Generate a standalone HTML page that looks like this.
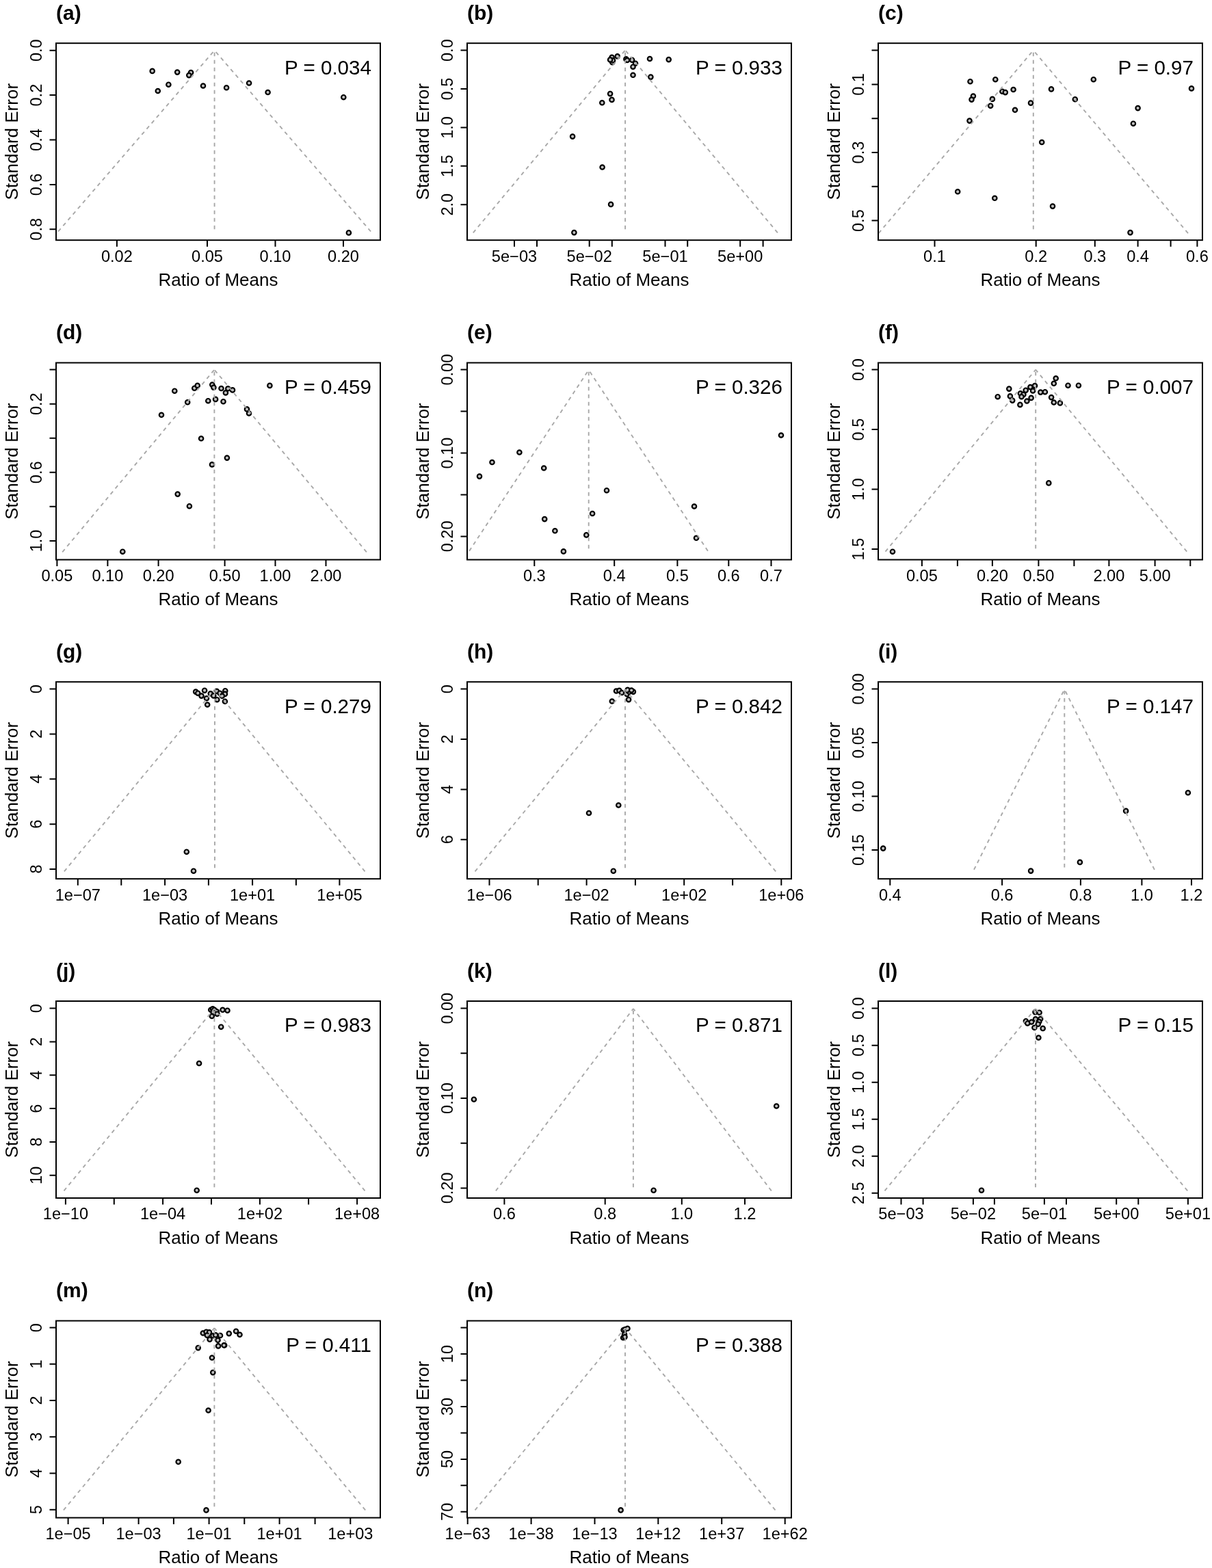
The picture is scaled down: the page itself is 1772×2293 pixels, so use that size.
<!DOCTYPE html>
<html><head><meta charset="utf-8"><title>Funnel plots</title>
<style>
html,body{margin:0;padding:0;background:#fff;}
body{width:1772px;height:2293px;overflow:hidden;}
svg{display:block;}
svg text{font-family:"Liberation Sans",Arial,sans-serif;fill:#000;}
.tl{font-size:23.6px;}
.lb{font-size:26.0px;}
.pv{font-size:29.6px;}
.tt{font-size:30.0px;font-weight:bold;}
.bx{fill:none;stroke:#000;stroke-width:2.0;}
.tk{fill:none;stroke:#000;stroke-width:2.0;}
.fl{fill:none;stroke:#a8a8a8;stroke-width:1.9;stroke-dasharray:5.5 5.5;}
circle{fill:#bebebe;stroke:#000;stroke-width:2.2;}
</style></head>
<body><svg width="1772" height="2293" viewBox="0 0 1772 2293">
<rect x="0" y="0" width="1772" height="2293" fill="#fff"/>
<g>
<circle cx="222.7" cy="103.9" r="3.2"/>
<circle cx="259.2" cy="105.6" r="3.2"/>
<circle cx="279.1" cy="106" r="3.2"/>
<circle cx="276.3" cy="110.1" r="3.2"/>
<circle cx="246.4" cy="123.7" r="3.2"/>
<circle cx="230.8" cy="133" r="3.2"/>
<circle cx="297" cy="125.5" r="3.2"/>
<circle cx="331.1" cy="128.3" r="3.2"/>
<circle cx="364.1" cy="121.5" r="3.2"/>
<circle cx="391.6" cy="135" r="3.2"/>
<circle cx="502.3" cy="142.2" r="3.2"/>
<circle cx="509.9" cy="340.4" r="3.2"/>
<path class="fl" d="M85.1 338.5L313.6 73.7M542.1 338.5L313.6 73.7"/>
<path class="fl" d="M313.6 335.3L313.6 73.7"/>
<rect class="bx" x="82" y="63.2" width="474" height="288"/>
<path class="tk" d="M72.5 73.7H82M72.5 139.1H82M72.5 204.5H82M72.5 269.9H82M72.5 335.3H82M170.9 351.2V360.7M303 351.2V360.7M402.5 351.2V360.7M502 351.2V360.7"/>
<text class="tl" text-anchor="middle" transform="translate(60.8 73.7) rotate(-90)">0.0</text>
<text class="tl" text-anchor="middle" transform="translate(60.8 139.1) rotate(-90)">0.2</text>
<text class="tl" text-anchor="middle" transform="translate(60.8 204.5) rotate(-90)">0.4</text>
<text class="tl" text-anchor="middle" transform="translate(60.8 269.9) rotate(-90)">0.6</text>
<text class="tl" text-anchor="middle" transform="translate(60.8 335.3) rotate(-90)">0.8</text>
<text class="tl" text-anchor="middle" x="170.9" y="382.6">0.02</text>
<text class="tl" text-anchor="middle" x="303" y="382.6">0.05</text>
<text class="tl" text-anchor="middle" x="402.5" y="382.6">0.10</text>
<text class="tl" text-anchor="middle" x="502" y="382.6">0.20</text>
<text class="lb" text-anchor="middle" x="319" y="417.8">Ratio of Means</text>
<text class="lb" text-anchor="middle" transform="translate(25.7 207.2) rotate(-90)">Standard Error</text>
<text class="pv" text-anchor="end" x="543" y="108.6">P = 0.034</text>
<text class="tt" x="82" y="28.7">(a)</text>
</g>
<g>
<circle cx="895.3" cy="91.3" r="3.2"/>
<circle cx="894.6" cy="83.9" r="3.2"/>
<circle cx="896" cy="88.3" r="3.2"/>
<circle cx="902.7" cy="82.4" r="3.2"/>
<circle cx="892.1" cy="87.4" r="3.2"/>
<circle cx="915.4" cy="86.4" r="3.2"/>
<circle cx="917" cy="88" r="3.2"/>
<circle cx="924.1" cy="87.8" r="3.2"/>
<circle cx="929" cy="92.7" r="3.2"/>
<circle cx="925.5" cy="97.7" r="3.2"/>
<circle cx="950" cy="86" r="3.2"/>
<circle cx="977.7" cy="87.1" r="3.2"/>
<circle cx="925.5" cy="109.8" r="3.2"/>
<circle cx="951.4" cy="112.6" r="3.2"/>
<circle cx="892.1" cy="137.1" r="3.2"/>
<circle cx="894.5" cy="145.9" r="3.2"/>
<circle cx="880.3" cy="150.3" r="3.2"/>
<circle cx="837.1" cy="199.6" r="3.2"/>
<circle cx="880.6" cy="244.5" r="3.2"/>
<circle cx="893.1" cy="298.9" r="3.2"/>
<circle cx="839.4" cy="340.1" r="3.2"/>
<path class="fl" d="M691.8 340.4L914.1 73.4M1136.9 340.4L914.1 73.4"/>
<path class="fl" d="M914.1 335.3L914.1 73.4"/>
<rect class="bx" x="683" y="63.2" width="474" height="288"/>
<path class="tk" d="M673.5 73.6H683M673.5 130H683M673.5 186.4H683M673.5 242.8H683M673.5 299.2H683M752 351.2V360.7M785 351.2V360.7M861.7 351.2V360.7M894.8 351.2V360.7M972.5 351.2V360.7M1005.2 351.2V360.7M1082.2 351.2V360.7M1115.6 351.2V360.7"/>
<text class="tl" text-anchor="middle" transform="translate(661.8 73.6) rotate(-90)">0.0</text>
<text class="tl" text-anchor="middle" transform="translate(661.8 130) rotate(-90)">0.5</text>
<text class="tl" text-anchor="middle" transform="translate(661.8 186.4) rotate(-90)">1.0</text>
<text class="tl" text-anchor="middle" transform="translate(661.8 242.8) rotate(-90)">1.5</text>
<text class="tl" text-anchor="middle" transform="translate(661.8 299.2) rotate(-90)">2.0</text>
<text class="tl" text-anchor="middle" x="752" y="382.6">5e−03</text>
<text class="tl" text-anchor="middle" x="861.7" y="382.6">5e−02</text>
<text class="tl" text-anchor="middle" x="972.5" y="382.6">5e−01</text>
<text class="tl" text-anchor="middle" x="1082.2" y="382.6">5e+00</text>
<text class="lb" text-anchor="middle" x="920" y="417.8">Ratio of Means</text>
<text class="lb" text-anchor="middle" transform="translate(626.7 207.2) rotate(-90)">Standard Error</text>
<text class="pv" text-anchor="end" x="1144" y="108.6">P = 0.933</text>
<text class="tt" x="683" y="28.7">(b)</text>
</g>
<g>
<circle cx="1418.5" cy="119.2" r="3.2"/>
<circle cx="1455.3" cy="116.2" r="3.2"/>
<circle cx="1598.8" cy="116.2" r="3.2"/>
<circle cx="1742" cy="129.4" r="3.2"/>
<circle cx="1481.6" cy="131" r="3.2"/>
<circle cx="1465.4" cy="133.7" r="3.2"/>
<circle cx="1469.8" cy="135.1" r="3.2"/>
<circle cx="1537" cy="130.4" r="3.2"/>
<circle cx="1422.9" cy="140.5" r="3.2"/>
<circle cx="1420.5" cy="145.6" r="3.2"/>
<circle cx="1450.9" cy="144.9" r="3.2"/>
<circle cx="1571.8" cy="145.2" r="3.2"/>
<circle cx="1448.2" cy="154.7" r="3.2"/>
<circle cx="1507" cy="150.6" r="3.2"/>
<circle cx="1484" cy="160.8" r="3.2"/>
<circle cx="1663.6" cy="158.1" r="3.2"/>
<circle cx="1417.5" cy="176.6" r="3.2"/>
<circle cx="1656.9" cy="180.7" r="3.2"/>
<circle cx="1523.2" cy="208" r="3.2"/>
<circle cx="1400.2" cy="280.3" r="3.2"/>
<circle cx="1454.3" cy="289.8" r="3.2"/>
<circle cx="1539" cy="301.6" r="3.2"/>
<circle cx="1652.5" cy="340.1" r="3.2"/>
<path class="fl" d="M1284.6 341.1L1510.8 73.6M1737 341.1L1510.8 73.6"/>
<path class="fl" d="M1510.8 335.3L1510.8 73.6"/>
<rect class="bx" x="1284" y="63.2" width="474" height="288"/>
<path class="tk" d="M1274.5 73.6H1284M1274.5 123.4H1284M1274.5 173.2H1284M1274.5 223H1284M1274.5 272.8H1284M1274.5 322.6H1284M1366.5 351.2V360.7M1514.7 351.2V360.7M1600.8 351.2V360.7M1663.6 351.2V360.7M1711.6 351.2V360.7M1750.4 351.2V360.7"/>
<text class="tl" text-anchor="middle" transform="translate(1262.8 123.4) rotate(-90)">0.1</text>
<text class="tl" text-anchor="middle" transform="translate(1262.8 223) rotate(-90)">0.3</text>
<text class="tl" text-anchor="middle" transform="translate(1262.8 322.6) rotate(-90)">0.5</text>
<text class="tl" text-anchor="middle" x="1366.5" y="382.6">0.1</text>
<text class="tl" text-anchor="middle" x="1514.7" y="382.6">0.2</text>
<text class="tl" text-anchor="middle" x="1600.8" y="382.6">0.3</text>
<text class="tl" text-anchor="middle" x="1663.6" y="382.6">0.4</text>
<text class="tl" text-anchor="middle" x="1750.4" y="382.6">0.6</text>
<text class="lb" text-anchor="middle" x="1521" y="417.8">Ratio of Means</text>
<text class="lb" text-anchor="middle" transform="translate(1227.7 207.2) rotate(-90)">Standard Error</text>
<text class="pv" text-anchor="end" x="1745" y="108.6">P = 0.97</text>
<text class="tt" x="1284" y="28.7">(c)</text>
</g>
<g>
<circle cx="255.3" cy="571.7" r="3.2"/>
<circle cx="284.3" cy="567.7" r="3.2"/>
<circle cx="288.7" cy="563.9" r="3.2"/>
<circle cx="310.3" cy="562.6" r="3.2"/>
<circle cx="312.4" cy="566.6" r="3.2"/>
<circle cx="323.5" cy="568" r="3.2"/>
<circle cx="333.3" cy="568.3" r="3.2"/>
<circle cx="340" cy="570.4" r="3.2"/>
<circle cx="329.9" cy="574.4" r="3.2"/>
<circle cx="394.4" cy="563.9" r="3.2"/>
<circle cx="274.2" cy="588.3" r="3.2"/>
<circle cx="304.3" cy="586.2" r="3.2"/>
<circle cx="315.1" cy="583.9" r="3.2"/>
<circle cx="326.5" cy="587.2" r="3.2"/>
<circle cx="361" cy="598.4" r="3.2"/>
<circle cx="364" cy="604.5" r="3.2"/>
<circle cx="236" cy="606.8" r="3.2"/>
<circle cx="294.1" cy="641.3" r="3.2"/>
<circle cx="331.9" cy="669.6" r="3.2"/>
<circle cx="310" cy="679.4" r="3.2"/>
<circle cx="259.7" cy="722.6" r="3.2"/>
<circle cx="276.9" cy="740.2" r="3.2"/>
<circle cx="179.3" cy="806.7" r="3.2"/>
<path class="fl" d="M91.2 807.4L313.4 540.6M535.9 807.4L313.4 540.6"/>
<path class="fl" d="M313.4 802.3L313.4 540.6"/>
<rect class="bx" x="82" y="530.5" width="474" height="288"/>
<path class="tk" d="M72.5 540.6H82M72.5 590.66H82M72.5 640.72H82M72.5 690.78H82M72.5 740.84H82M72.5 790.9H82M83.4 818.5V828M157.4 818.5V828M231.6 818.5V828M328.6 818.5V828M402.5 818.5V828M476.5 818.5V828"/>
<text class="tl" text-anchor="middle" transform="translate(60.8 590.66) rotate(-90)">0.2</text>
<text class="tl" text-anchor="middle" transform="translate(60.8 690.78) rotate(-90)">0.6</text>
<text class="tl" text-anchor="middle" transform="translate(60.8 790.9) rotate(-90)">1.0</text>
<text class="tl" text-anchor="middle" x="83.4" y="849.9">0.05</text>
<text class="tl" text-anchor="middle" x="157.4" y="849.9">0.10</text>
<text class="tl" text-anchor="middle" x="231.6" y="849.9">0.20</text>
<text class="tl" text-anchor="middle" x="328.6" y="849.9">0.50</text>
<text class="tl" text-anchor="middle" x="402.5" y="849.9">1.00</text>
<text class="tl" text-anchor="middle" x="476.5" y="849.9">2.00</text>
<text class="lb" text-anchor="middle" x="319" y="885.1">Ratio of Means</text>
<text class="lb" text-anchor="middle" transform="translate(25.7 674.5) rotate(-90)">Standard Error</text>
<text class="pv" text-anchor="end" x="543" y="575.9">P = 0.459</text>
<text class="tt" x="82" y="496">(d)</text>
</g>
<g>
<circle cx="1142" cy="636.5" r="3.2"/>
<circle cx="759.4" cy="661.5" r="3.2"/>
<circle cx="719.5" cy="676" r="3.2"/>
<circle cx="795.2" cy="684.5" r="3.2"/>
<circle cx="701" cy="696.6" r="3.2"/>
<circle cx="887" cy="717.2" r="3.2"/>
<circle cx="1015" cy="740.5" r="3.2"/>
<circle cx="866.1" cy="751" r="3.2"/>
<circle cx="796.2" cy="759.1" r="3.2"/>
<circle cx="811.4" cy="776.3" r="3.2"/>
<circle cx="857.3" cy="782.4" r="3.2"/>
<circle cx="1018" cy="786.8" r="3.2"/>
<circle cx="823.9" cy="806.4" r="3.2"/>
<path class="fl" d="M686.1 805.7L860.7 541M1034.9 805.7L860.7 541"/>
<path class="fl" d="M860.7 802.3L860.7 541"/>
<rect class="bx" x="683" y="530.5" width="474" height="288"/>
<path class="tk" d="M673.5 540.6H683M673.5 601.55H683M673.5 662.5H683M673.5 723.45H683M673.5 784.4H683M781.3 818.5V828M898.2 818.5V828M990.4 818.5V828M1065.3 818.5V828M1127.5 818.5V828"/>
<text class="tl" text-anchor="middle" transform="translate(661.8 540.6) rotate(-90)">0.00</text>
<text class="tl" text-anchor="middle" transform="translate(661.8 662.5) rotate(-90)">0.10</text>
<text class="tl" text-anchor="middle" transform="translate(661.8 784.4) rotate(-90)">0.20</text>
<text class="tl" text-anchor="middle" x="781.3" y="849.9">0.3</text>
<text class="tl" text-anchor="middle" x="898.2" y="849.9">0.4</text>
<text class="tl" text-anchor="middle" x="990.4" y="849.9">0.5</text>
<text class="tl" text-anchor="middle" x="1065.3" y="849.9">0.6</text>
<text class="tl" text-anchor="middle" x="1127.5" y="849.9">0.7</text>
<text class="lb" text-anchor="middle" x="920" y="885.1">Ratio of Means</text>
<text class="lb" text-anchor="middle" transform="translate(626.7 674.5) rotate(-90)">Standard Error</text>
<text class="pv" text-anchor="end" x="1144" y="575.9">P = 0.326</text>
<text class="tt" x="683" y="496">(e)</text>
</g>
<g>
<circle cx="1458.7" cy="580.2" r="3.2"/>
<circle cx="1475.3" cy="568.6" r="3.2"/>
<circle cx="1476.9" cy="579.4" r="3.2"/>
<circle cx="1480.2" cy="585.6" r="3.2"/>
<circle cx="1491.9" cy="575.3" r="3.2"/>
<circle cx="1496.4" cy="576.9" r="3.2"/>
<circle cx="1493.5" cy="580.2" r="3.2"/>
<circle cx="1499.7" cy="570.7" r="3.2"/>
<circle cx="1506.4" cy="566.1" r="3.2"/>
<circle cx="1513" cy="564.1" r="3.2"/>
<circle cx="1510.1" cy="571.5" r="3.2"/>
<circle cx="1507.6" cy="581.9" r="3.2"/>
<circle cx="1501.4" cy="586.5" r="3.2"/>
<circle cx="1491.4" cy="591.9" r="3.2"/>
<circle cx="1521.3" cy="573.6" r="3.2"/>
<circle cx="1527.9" cy="573.2" r="3.2"/>
<circle cx="1543.7" cy="553.3" r="3.2"/>
<circle cx="1540.8" cy="560.8" r="3.2"/>
<circle cx="1561.5" cy="563.7" r="3.2"/>
<circle cx="1576.9" cy="563.7" r="3.2"/>
<circle cx="1537.1" cy="581.1" r="3.2"/>
<circle cx="1540.8" cy="588.5" r="3.2"/>
<circle cx="1549.9" cy="589.4" r="3.2"/>
<circle cx="1533.3" cy="706.4" r="3.2"/>
<circle cx="1305" cy="806.7" r="3.2"/>
<path class="fl" d="M1294.5 806.7L1514.2 540.6M1735.2 806.7L1514.2 540.6"/>
<path class="fl" d="M1514.2 802.3L1514.2 540.6"/>
<rect class="bx" x="1284" y="530.5" width="474" height="288"/>
<path class="tk" d="M1274.5 540.6H1284M1274.5 628.07H1284M1274.5 715.54H1284M1274.5 803.01H1284M1347.9 818.5V828M1399.9 818.5V828M1450.9 818.5V828M1518.4 818.5V828M1570.4 818.5V828M1621.4 818.5V828M1688.6 818.5V828M1740.3 818.5V828"/>
<text class="tl" text-anchor="middle" transform="translate(1262.8 540.6) rotate(-90)">0.0</text>
<text class="tl" text-anchor="middle" transform="translate(1262.8 628.07) rotate(-90)">0.5</text>
<text class="tl" text-anchor="middle" transform="translate(1262.8 715.54) rotate(-90)">1.0</text>
<text class="tl" text-anchor="middle" transform="translate(1262.8 803.01) rotate(-90)">1.5</text>
<text class="tl" text-anchor="middle" x="1347.9" y="849.9">0.05</text>
<text class="tl" text-anchor="middle" x="1450.9" y="849.9">0.20</text>
<text class="tl" text-anchor="middle" x="1518.4" y="849.9">0.50</text>
<text class="tl" text-anchor="middle" x="1621.4" y="849.9">2.00</text>
<text class="tl" text-anchor="middle" x="1688.6" y="849.9">5.00</text>
<text class="lb" text-anchor="middle" x="1521" y="885.1">Ratio of Means</text>
<text class="lb" text-anchor="middle" transform="translate(1227.7 674.5) rotate(-90)">Standard Error</text>
<text class="pv" text-anchor="end" x="1745" y="575.9">P = 0.007</text>
<text class="tt" x="1284" y="496">(f)</text>
</g>
<g>
<circle cx="286.2" cy="1011.6" r="3.2"/>
<circle cx="289.3" cy="1013.7" r="3.2"/>
<circle cx="299.1" cy="1009.7" r="3.2"/>
<circle cx="294.5" cy="1017.6" r="3.2"/>
<circle cx="302" cy="1021.2" r="3.2"/>
<circle cx="307.8" cy="1014.3" r="3.2"/>
<circle cx="303.2" cy="1030.5" r="3.2"/>
<circle cx="316.9" cy="1010.8" r="3.2"/>
<circle cx="312.3" cy="1017.4" r="3.2"/>
<circle cx="317.3" cy="1023.2" r="3.2"/>
<circle cx="321.5" cy="1013.7" r="3.2"/>
<circle cx="329.3" cy="1010.2" r="3.2"/>
<circle cx="328.9" cy="1014.9" r="3.2"/>
<circle cx="328.9" cy="1025.7" r="3.2"/>
<circle cx="324.8" cy="1017.8" r="3.2"/>
<circle cx="272.8" cy="1245.7" r="3.2"/>
<circle cx="283" cy="1273.7" r="3.2"/>
<path class="fl" d="M93.9 1274.4L314 1008M533.5 1274.4L314 1008"/>
<path class="fl" d="M314 1269.3L314 1008"/>
<rect class="bx" x="82" y="997.2" width="474" height="288"/>
<path class="tk" d="M72.5 1007.6H82M72.5 1073.45H82M72.5 1139.3H82M72.5 1205.15H82M72.5 1271H82M113.8 1285.2V1294.7M177.3 1285.2V1294.7M241.1 1285.2V1294.7M304.9 1285.2V1294.7M369.1 1285.2V1294.7M432.9 1285.2V1294.7M496.4 1285.2V1294.7"/>
<text class="tl" text-anchor="middle" transform="translate(60.8 1007.6) rotate(-90)">0</text>
<text class="tl" text-anchor="middle" transform="translate(60.8 1073.45) rotate(-90)">2</text>
<text class="tl" text-anchor="middle" transform="translate(60.8 1139.3) rotate(-90)">4</text>
<text class="tl" text-anchor="middle" transform="translate(60.8 1205.15) rotate(-90)">6</text>
<text class="tl" text-anchor="middle" transform="translate(60.8 1271) rotate(-90)">8</text>
<text class="tl" text-anchor="middle" x="113.8" y="1316.6">1e−07</text>
<text class="tl" text-anchor="middle" x="241.1" y="1316.6">1e−03</text>
<text class="tl" text-anchor="middle" x="369.1" y="1316.6">1e+01</text>
<text class="tl" text-anchor="middle" x="496.4" y="1316.6">1e+05</text>
<text class="lb" text-anchor="middle" x="319" y="1351.8">Ratio of Means</text>
<text class="lb" text-anchor="middle" transform="translate(25.7 1141.2) rotate(-90)">Standard Error</text>
<text class="pv" text-anchor="end" x="543" y="1042.6">P = 0.279</text>
<text class="tt" x="82" y="962.7">(g)</text>
</g>
<g>
<circle cx="901" cy="1010.5" r="3.2"/>
<circle cx="905.4" cy="1009.8" r="3.2"/>
<circle cx="909" cy="1013" r="3.2"/>
<circle cx="916.7" cy="1015.1" r="3.2"/>
<circle cx="920" cy="1011.8" r="3.2"/>
<circle cx="917.6" cy="1008.9" r="3.2"/>
<circle cx="925.9" cy="1011.6" r="3.2"/>
<circle cx="923.2" cy="1009.5" r="3.2"/>
<circle cx="919.1" cy="1023.1" r="3.2"/>
<circle cx="894.8" cy="1025.5" r="3.2"/>
<circle cx="904.3" cy="1177.5" r="3.2"/>
<circle cx="861" cy="1189" r="3.2"/>
<circle cx="896.8" cy="1273.7" r="3.2"/>
<path class="fl" d="M694.5 1274.4L914 1008M1134.2 1274.4L914 1008"/>
<path class="fl" d="M914 1269.3L914 1008"/>
<rect class="bx" x="683" y="997.2" width="474" height="288"/>
<path class="tk" d="M673.5 1007.6H683M673.5 1081H683M673.5 1154.4H683M673.5 1227.8H683M715.5 1285.2V1294.7M786.7 1285.2V1294.7M857.6 1285.2V1294.7M928.9 1285.2V1294.7M1000.2 1285.2V1294.7M1071.1 1285.2V1294.7M1142.3 1285.2V1294.7"/>
<text class="tl" text-anchor="middle" transform="translate(661.8 1007.6) rotate(-90)">0</text>
<text class="tl" text-anchor="middle" transform="translate(661.8 1081) rotate(-90)">2</text>
<text class="tl" text-anchor="middle" transform="translate(661.8 1154.4) rotate(-90)">4</text>
<text class="tl" text-anchor="middle" transform="translate(661.8 1227.8) rotate(-90)">6</text>
<text class="tl" text-anchor="middle" x="715.5" y="1316.6">1e−06</text>
<text class="tl" text-anchor="middle" x="857.6" y="1316.6">1e−02</text>
<text class="tl" text-anchor="middle" x="1000.2" y="1316.6">1e+02</text>
<text class="tl" text-anchor="middle" x="1142.3" y="1316.6">1e+06</text>
<text class="lb" text-anchor="middle" x="920" y="1351.8">Ratio of Means</text>
<text class="lb" text-anchor="middle" transform="translate(626.7 1141.2) rotate(-90)">Standard Error</text>
<text class="pv" text-anchor="end" x="1144" y="1042.6">P = 0.842</text>
<text class="tt" x="683" y="962.7">(h)</text>
</g>
<g>
<circle cx="1736.9" cy="1159.3" r="3.2"/>
<circle cx="1646.1" cy="1185.9" r="3.2"/>
<circle cx="1291.2" cy="1240.6" r="3.2"/>
<circle cx="1578.9" cy="1260.9" r="3.2"/>
<circle cx="1507.1" cy="1273.6" r="3.2"/>
<path class="fl" d="M1424 1271.8L1556.3 1008M1687.9 1271.8L1556.3 1008"/>
<path class="fl" d="M1556.3 1268.5L1556.3 1008"/>
<rect class="bx" x="1284" y="997.2" width="474" height="288"/>
<path class="tk" d="M1274.5 1007.6H1284M1274.5 1086.07H1284M1274.5 1164.54H1284M1274.5 1243.01H1284M1301.3 1285.2V1294.7M1465.1 1285.2V1294.7M1579.9 1285.2V1294.7M1669.4 1285.2V1294.7M1742 1285.2V1294.7"/>
<text class="tl" text-anchor="middle" transform="translate(1262.8 1007.6) rotate(-90)">0.00</text>
<text class="tl" text-anchor="middle" transform="translate(1262.8 1086.07) rotate(-90)">0.05</text>
<text class="tl" text-anchor="middle" transform="translate(1262.8 1164.54) rotate(-90)">0.10</text>
<text class="tl" text-anchor="middle" transform="translate(1262.8 1243.01) rotate(-90)">0.15</text>
<text class="tl" text-anchor="middle" x="1301.3" y="1316.6">0.4</text>
<text class="tl" text-anchor="middle" x="1465.1" y="1316.6">0.6</text>
<text class="tl" text-anchor="middle" x="1579.9" y="1316.6">0.8</text>
<text class="tl" text-anchor="middle" x="1669.4" y="1316.6">1.0</text>
<text class="tl" text-anchor="middle" x="1742" y="1316.6">1.2</text>
<text class="lb" text-anchor="middle" x="1521" y="1351.8">Ratio of Means</text>
<text class="lb" text-anchor="middle" transform="translate(1227.7 1141.2) rotate(-90)">Standard Error</text>
<text class="pv" text-anchor="end" x="1745" y="1042.6">P = 0.147</text>
<text class="tt" x="1284" y="962.7">(i)</text>
</g>
<g>
<circle cx="308.3" cy="1476.8" r="3.2"/>
<circle cx="311" cy="1475.3" r="3.2"/>
<circle cx="313.4" cy="1476.8" r="3.2"/>
<circle cx="311.6" cy="1480" r="3.2"/>
<circle cx="316.9" cy="1479.4" r="3.2"/>
<circle cx="317.5" cy="1482.7" r="3.2"/>
<circle cx="309.8" cy="1486" r="3.2"/>
<circle cx="325.5" cy="1476.8" r="3.2"/>
<circle cx="332.5" cy="1477.7" r="3.2"/>
<circle cx="323.2" cy="1501.7" r="3.2"/>
<circle cx="291.1" cy="1555" r="3.2"/>
<circle cx="287.7" cy="1740.7" r="3.2"/>
<path class="fl" d="M93.5 1741.4L313.4 1475M533.5 1741.4L313.4 1475"/>
<path class="fl" d="M313.4 1736.3L313.4 1475"/>
<rect class="bx" x="82" y="1464" width="474" height="288"/>
<path class="tk" d="M72.5 1474.6H82M72.5 1523.44H82M72.5 1572.28H82M72.5 1621.12H82M72.5 1669.96H82M72.5 1718.8H82M95.9 1752V1761.5M166.8 1752V1761.5M238.1 1752V1761.5M309 1752V1761.5M379.9 1752V1761.5M451.1 1752V1761.5M522.1 1752V1761.5"/>
<text class="tl" text-anchor="middle" transform="translate(60.8 1474.6) rotate(-90)">0</text>
<text class="tl" text-anchor="middle" transform="translate(60.8 1523.44) rotate(-90)">2</text>
<text class="tl" text-anchor="middle" transform="translate(60.8 1572.28) rotate(-90)">4</text>
<text class="tl" text-anchor="middle" transform="translate(60.8 1621.12) rotate(-90)">6</text>
<text class="tl" text-anchor="middle" transform="translate(60.8 1669.96) rotate(-90)">8</text>
<text class="tl" text-anchor="middle" transform="translate(60.8 1718.8) rotate(-90)">10</text>
<text class="tl" text-anchor="middle" x="95.9" y="1783.4">1e−10</text>
<text class="tl" text-anchor="middle" x="238.1" y="1783.4">1e−04</text>
<text class="tl" text-anchor="middle" x="379.9" y="1783.4">1e+02</text>
<text class="tl" text-anchor="middle" x="522.1" y="1783.4">1e+08</text>
<text class="lb" text-anchor="middle" x="319" y="1818.6">Ratio of Means</text>
<text class="lb" text-anchor="middle" transform="translate(25.7 1608) rotate(-90)">Standard Error</text>
<text class="pv" text-anchor="end" x="543" y="1509.4">P = 0.983</text>
<text class="tt" x="82" y="1429.5">(j)</text>
</g>
<g>
<circle cx="692.9" cy="1607.7" r="3.2"/>
<circle cx="1135.2" cy="1617.5" r="3.2"/>
<circle cx="955.6" cy="1740.7" r="3.2"/>
<path class="fl" d="M724.9 1741.4L925.9 1475M1127.8 1741.4L925.9 1475"/>
<path class="fl" d="M925.9 1736.3L925.9 1475"/>
<rect class="bx" x="683" y="1464" width="474" height="288"/>
<path class="tk" d="M673.5 1474.6H683M673.5 1540.3H683M673.5 1606H683M673.5 1671.7H683M673.5 1737.4H683M737.4 1752V1761.5M884.7 1752V1761.5M996.8 1752V1761.5M1089 1752V1761.5"/>
<text class="tl" text-anchor="middle" transform="translate(661.8 1474.6) rotate(-90)">0.00</text>
<text class="tl" text-anchor="middle" transform="translate(661.8 1606) rotate(-90)">0.10</text>
<text class="tl" text-anchor="middle" transform="translate(661.8 1737.4) rotate(-90)">0.20</text>
<text class="tl" text-anchor="middle" x="737.4" y="1783.4">0.6</text>
<text class="tl" text-anchor="middle" x="884.7" y="1783.4">0.8</text>
<text class="tl" text-anchor="middle" x="996.8" y="1783.4">1.0</text>
<text class="tl" text-anchor="middle" x="1089" y="1783.4">1.2</text>
<text class="lb" text-anchor="middle" x="920" y="1818.6">Ratio of Means</text>
<text class="lb" text-anchor="middle" transform="translate(626.7 1608) rotate(-90)">Standard Error</text>
<text class="pv" text-anchor="end" x="1144" y="1509.4">P = 0.871</text>
<text class="tt" x="683" y="1429.5">(k)</text>
</g>
<g>
<circle cx="1513.5" cy="1480.1" r="3.2"/>
<circle cx="1519.6" cy="1480.7" r="3.2"/>
<circle cx="1499.9" cy="1493.2" r="3.2"/>
<circle cx="1502.3" cy="1496.4" r="3.2"/>
<circle cx="1508.1" cy="1494.5" r="3.2"/>
<circle cx="1514" cy="1490.3" r="3.2"/>
<circle cx="1521.2" cy="1490" r="3.2"/>
<circle cx="1519.3" cy="1494" r="3.2"/>
<circle cx="1517.7" cy="1497.7" r="3.2"/>
<circle cx="1512.4" cy="1502.8" r="3.2"/>
<circle cx="1524.7" cy="1503.9" r="3.2"/>
<circle cx="1518.4" cy="1517.5" r="3.2"/>
<circle cx="1435" cy="1740.7" r="3.2"/>
<path class="fl" d="M1293.5 1741.4L1514 1475M1736.2 1741.4L1514 1475"/>
<path class="fl" d="M1514 1736.3L1514 1475"/>
<rect class="bx" x="1284" y="1464" width="474" height="288"/>
<path class="tk" d="M1274.5 1474.6H1284M1274.5 1528.64H1284M1274.5 1582.68H1284M1274.5 1636.72H1284M1274.5 1690.76H1284M1274.5 1744.8H1284M1317.5 1752V1761.5M1349.6 1752V1761.5M1422.9 1752V1761.5M1453.9 1752V1761.5M1526.9 1752V1761.5M1559 1752V1761.5M1632.2 1752V1761.5M1664.3 1752V1761.5M1736.9 1752V1761.5"/>
<text class="tl" text-anchor="middle" transform="translate(1262.8 1474.6) rotate(-90)">0.0</text>
<text class="tl" text-anchor="middle" transform="translate(1262.8 1528.64) rotate(-90)">0.5</text>
<text class="tl" text-anchor="middle" transform="translate(1262.8 1582.68) rotate(-90)">1.0</text>
<text class="tl" text-anchor="middle" transform="translate(1262.8 1636.72) rotate(-90)">1.5</text>
<text class="tl" text-anchor="middle" transform="translate(1262.8 1690.76) rotate(-90)">2.0</text>
<text class="tl" text-anchor="middle" transform="translate(1262.8 1744.8) rotate(-90)">2.5</text>
<text class="tl" text-anchor="middle" x="1317.5" y="1783.4">5e−03</text>
<text class="tl" text-anchor="middle" x="1422.9" y="1783.4">5e−02</text>
<text class="tl" text-anchor="middle" x="1526.9" y="1783.4">5e−01</text>
<text class="tl" text-anchor="middle" x="1632.2" y="1783.4">5e+00</text>
<text class="tl" text-anchor="middle" x="1736.9" y="1783.4">5e+01</text>
<text class="lb" text-anchor="middle" x="1521" y="1818.6">Ratio of Means</text>
<text class="lb" text-anchor="middle" transform="translate(1227.7 1608) rotate(-90)">Standard Error</text>
<text class="pv" text-anchor="end" x="1745" y="1509.4">P = 0.15</text>
<text class="tt" x="1284" y="1429.5">(l)</text>
</g>
<g>
<circle cx="296.8" cy="1949.5" r="3.2"/>
<circle cx="301.6" cy="1947.7" r="3.2"/>
<circle cx="306" cy="1948.3" r="3.2"/>
<circle cx="302.8" cy="1952.7" r="3.2"/>
<circle cx="306.6" cy="1958.7" r="3.2"/>
<circle cx="311.4" cy="1953.3" r="3.2"/>
<circle cx="315.2" cy="1952.4" r="3.2"/>
<circle cx="322" cy="1953" r="3.2"/>
<circle cx="318.5" cy="1959.8" r="3.2"/>
<circle cx="319.1" cy="1968.4" r="3.2"/>
<circle cx="328.2" cy="1967.3" r="3.2"/>
<circle cx="289.7" cy="1971.1" r="3.2"/>
<circle cx="334.8" cy="1950.1" r="3.2"/>
<circle cx="345.1" cy="1946.7" r="3.2"/>
<circle cx="350.5" cy="1951.8" r="3.2"/>
<circle cx="327.5" cy="1967.3" r="3.2"/>
<circle cx="310" cy="1985.5" r="3.2"/>
<circle cx="311.3" cy="2007.1" r="3.2"/>
<circle cx="304.6" cy="2062.5" r="3.2"/>
<circle cx="260.7" cy="2137.8" r="3.2"/>
<circle cx="301.5" cy="2208.4" r="3.2"/>
<path class="fl" d="M92.9 2208.4L313.4 1942M534.2 2208.4L313.4 1942"/>
<path class="fl" d="M313.4 2203.3L313.4 1942"/>
<rect class="bx" x="82" y="1931.5" width="474" height="288"/>
<path class="tk" d="M72.5 1941.6H82M72.5 1994.82H82M72.5 2048.04H82M72.5 2101.26H82M72.5 2154.48H82M72.5 2207.7H82M99.6 2219.5V2229M150.9 2219.5V2229M202.6 2219.5V2229M253.9 2219.5V2229M305.6 2219.5V2229M357.3 2219.5V2229M408.6 2219.5V2229M460.6 2219.5V2229M512.3 2219.5V2229"/>
<text class="tl" text-anchor="middle" transform="translate(60.8 1941.6) rotate(-90)">0</text>
<text class="tl" text-anchor="middle" transform="translate(60.8 1994.82) rotate(-90)">1</text>
<text class="tl" text-anchor="middle" transform="translate(60.8 2048.04) rotate(-90)">2</text>
<text class="tl" text-anchor="middle" transform="translate(60.8 2101.26) rotate(-90)">3</text>
<text class="tl" text-anchor="middle" transform="translate(60.8 2154.48) rotate(-90)">4</text>
<text class="tl" text-anchor="middle" transform="translate(60.8 2207.7) rotate(-90)">5</text>
<text class="tl" text-anchor="middle" x="99.6" y="2250.9">1e−05</text>
<text class="tl" text-anchor="middle" x="202.6" y="2250.9">1e−03</text>
<text class="tl" text-anchor="middle" x="305.6" y="2250.9">1e−01</text>
<text class="tl" text-anchor="middle" x="408.6" y="2250.9">1e+01</text>
<text class="tl" text-anchor="middle" x="512.3" y="2250.9">1e+03</text>
<text class="lb" text-anchor="middle" x="319" y="2286.1">Ratio of Means</text>
<text class="lb" text-anchor="middle" transform="translate(25.7 2075.5) rotate(-90)">Standard Error</text>
<text class="pv" text-anchor="end" x="543" y="1976.9">P = 0.411</text>
<text class="tt" x="82" y="1897">(m)</text>
</g>
<g>
<circle cx="911.6" cy="1945" r="3.2"/>
<circle cx="914" cy="1944" r="3.2"/>
<circle cx="917.5" cy="1942.8" r="3.2"/>
<circle cx="913" cy="1951.6" r="3.2"/>
<circle cx="911.1" cy="1956.3" r="3.2"/>
<circle cx="913.5" cy="1955.1" r="3.2"/>
<circle cx="907.6" cy="2208.4" r="3.2"/>
<path class="fl" d="M694.5 2208.4L914 1942M1133.5 2208.4L914 1942"/>
<path class="fl" d="M914 2203.3L914 1942"/>
<rect class="bx" x="683" y="1931.5" width="474" height="288"/>
<path class="tk" d="M673.5 1941.6H683M673.5 1980.06H683M673.5 2018.52H683M673.5 2056.98H683M673.5 2095.44H683M673.5 2133.9H683M673.5 2172.36H683M673.5 2210.82H683M683.7 2219.5V2229M776.6 2219.5V2229M869.5 2219.5V2229M962.3 2219.5V2229M1055.2 2219.5V2229M1147.7 2219.5V2229"/>
<text class="tl" text-anchor="middle" transform="translate(661.8 1980.06) rotate(-90)">10</text>
<text class="tl" text-anchor="middle" transform="translate(661.8 2056.98) rotate(-90)">30</text>
<text class="tl" text-anchor="middle" transform="translate(661.8 2133.9) rotate(-90)">50</text>
<text class="tl" text-anchor="middle" transform="translate(661.8 2210.82) rotate(-90)">70</text>
<text class="tl" text-anchor="middle" x="683.7" y="2250.9">1e−63</text>
<text class="tl" text-anchor="middle" x="776.6" y="2250.9">1e−38</text>
<text class="tl" text-anchor="middle" x="869.5" y="2250.9">1e−13</text>
<text class="tl" text-anchor="middle" x="962.3" y="2250.9">1e+12</text>
<text class="tl" text-anchor="middle" x="1055.2" y="2250.9">1e+37</text>
<text class="tl" text-anchor="middle" x="1147.7" y="2250.9">1e+62</text>
<text class="lb" text-anchor="middle" x="920" y="2286.1">Ratio of Means</text>
<text class="lb" text-anchor="middle" transform="translate(626.7 2075.5) rotate(-90)">Standard Error</text>
<text class="pv" text-anchor="end" x="1144" y="1976.9">P = 0.388</text>
<text class="tt" x="683" y="1897">(n)</text>
</g>
</svg></body></html>
